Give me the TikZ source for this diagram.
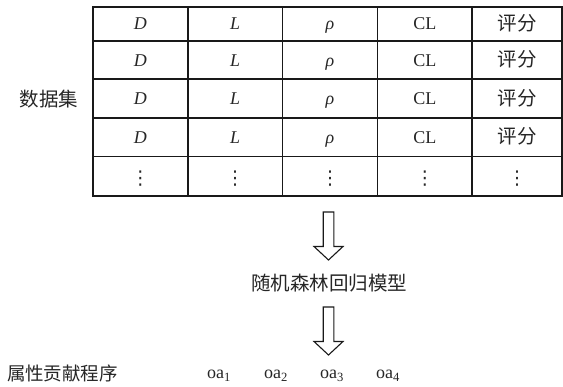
\documentclass[tikz,border=0pt]{standalone}
\usepackage{fontspec}
\setmainfont{Liberation Serif}
\newfontfamily\cjk{Noto Sans CJK SC}
\newfontfamily\symfont{DejaVu Sans}
\usetikzlibrary{calc}
\begin{document}
\begin{tikzpicture}[x=1pt,y=-1pt,
  cell/.style={draw=black!90, line width=1.6pt, inner sep=0pt},
  cjklabel/.style={inner sep=0pt, font=\cjk\fontsize{19.5}{19.5}\selectfont, text=black!85},
  latlabel/.style={inner sep=0pt, font=\fontsize{18}{18}\selectfont, text=black!85},
  dotlabel/.style={inner sep=0pt, font=\symfont\fontsize{19}{19}\selectfont, text=black!85},
  blockarrow/.style={draw=black!90, line width=1.1pt, fill=white, line join=miter}]
\useasboundingbox (0,0) rectangle (563,387);
% table
\foreach \r/\t/\b in {1/7/41,2/41/79.3,3/79.3/118.3,4/118.3/156.7,5/156.7/196}{
  \foreach \c/\l/\rr in {1/93/187.8,2/187.8/282.6,3/282.6/377.4,4/377.4/472.2,5/472.2/562}{
    \node[cell, minimum width={\rr-\l}, minimum height={\b-\t}] (c\r\c) at ({(\l+\rr)/2},{(\t+\b)/2}) {};
  }
}
\foreach \r in {1,2,3,4}{
  \node[latlabel, anchor=base] at ($(c\r1.center)+(0,6)$) {\textit{D}};
  \node[latlabel, anchor=base] at ($(c\r2.center)+(0,6)$) {\textit{L}};
  \node[latlabel, anchor=base] at ($(c\r3.center)+(0,6)$) {\textit{ρ}};
  \node[latlabel, anchor=base] at ($(c\r4.center)+(0,6)$) {CL};
  \node[cjklabel, anchor=base] at ($(c\r5.center)+(0,6.5)$) {评分};
}
\foreach \c in {1,...,5}{
  \node[dotlabel] at ($(c5\c.center)+(0,2)$) {⋮};
}
\node[cjklabel] (ds) at (49,99) {数据集};
% arrows
\coordinate (a1) at (328.5,212);
\coordinate (a2) at (328.5,307);
\foreach \a in {a1,a2}{
  \draw[blockarrow] ($(\a)+(-5.3,0)$) -- ($(\a)+(5.3,0)$) -- ($(\a)+(5.3,34.5)$) -- ($(\a)+(14.5,34.5)$) -- ($(\a)+(0,48)$) -- ($(\a)+(-14.5,34.5)$) -- ($(\a)+(-5.3,34.5)$) -- cycle;
}
\node[cjklabel] (rf) at (329,283) {随机森林回归模型};
\node[cjklabel, font=\cjk\fontsize{18.5}{18.5}\selectfont] (oc) at (62.5,373) {属性贡献程序};
\foreach \i/\x in {1/219,2/276,3/332,4/388}{
  \node[latlabel, anchor=base] (oa\i) at (\x,379) {oa\textsubscript{\i}};
}
\end{tikzpicture}
\end{document}
